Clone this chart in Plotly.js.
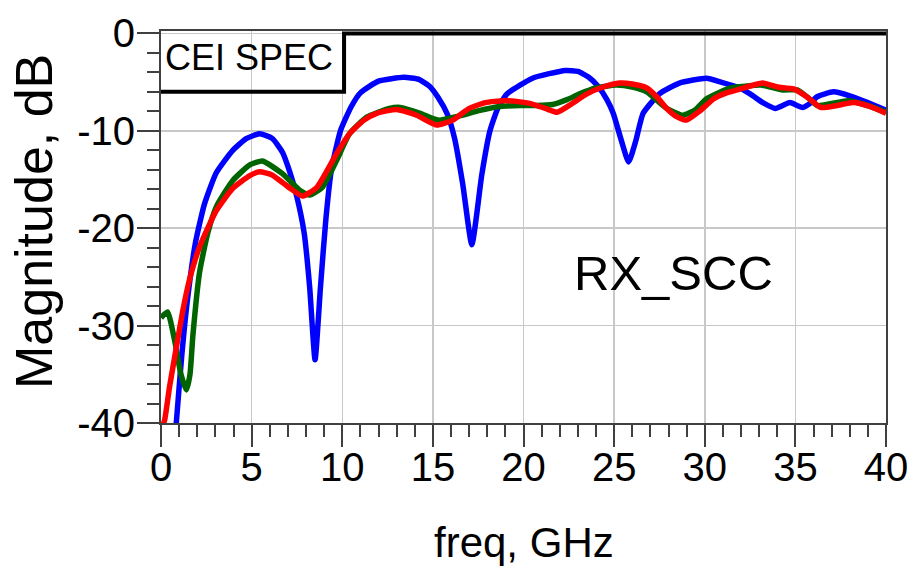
<!DOCTYPE html>
<html>
<head>
<meta charset="utf-8">
<script src="https://cdn.plot.ly/plotly-3.0.1.min.js"></script>
<style>html,body{margin:0;padding:0;background:#fff;}#chart{width:912px;height:566px;}</style>
</head>
<body>
<div id="chart"></div>
<script>
// Frequency (GHz) and magnitude (dB)
const blueFreq = [0.78, 0.95, 1.15, 1.45, 1.9, 2.4, 3.05, 3.96, 4.7, 5.45, 6.15, 6.7, 7.1, 7.5, 7.9, 8.2, 8.5, 8.8, 9.1, 9.4, 9.9, 10.5, 11.0, 12.0, 13.4, 14.2, 14.8, 15.3, 15.8, 16.2, 16.65, 17.15, 17.7, 18.15, 18.6, 19.1, 20.5, 22.3, 23.0, 23.6, 24.1, 24.6, 24.95, 25.4, 25.8, 26.2, 26.6, 27.5, 28.6, 30.1, 30.9, 31.8, 32.5, 33.2, 33.9, 34.3, 34.7, 35.1, 35.4, 35.8, 36.2, 37.1, 38.0, 39.0, 40];
const blueDb   = [-41.5, -37.5, -33, -27.5, -21.5, -17.5, -14.3, -12, -10.8, -10.3, -10.8, -12.2, -14.2, -16.8, -20.5, -26, -33.5, -26, -19, -14, -10, -7.5, -6.1, -4.9, -4.5, -4.7, -5.4, -6.6, -8.3, -10.8, -15.5, -21.7, -14.5, -10, -7.6, -6.2, -4.6, -3.8, -3.9, -4.5, -5.4, -6.8, -8.2, -11, -13.2, -11, -8.2, -6.2, -5.1, -4.6, -5.0, -5.5, -6.2, -7.1, -7.7, -7.4, -7.1, -7.4, -7.6, -7.2, -6.5, -6.0, -6.4, -7.1, -7.9];

const greenFreq = [0, 0.36, 0.75, 1.1, 1.4, 1.6, 1.76, 2.13, 2.58, 3.05, 3.96, 4.9, 5.6, 6.7, 7.65, 8.2, 8.9, 9.7, 10.4, 11.35, 12.6, 13.2, 14.3, 15.3, 16.4, 17.6, 18.7, 19.8, 20.7, 21.6, 22.4, 23.1, 24.0, 25.1, 26.0, 26.8, 27.9, 28.8, 29.5, 30.1, 31.4, 32.3, 33.1, 34.3, 35.1, 35.7, 36.2, 37.0, 37.9, 39.0, 40];
const greenDb   = [-29.2, -28.6, -31.5, -35, -36.6, -35, -31, -24.5, -20.5, -17.8, -15.1, -13.5, -13.1, -14.4, -16.1, -16.6, -15.8, -13.0, -10.3, -8.6, -7.7, -7.6, -8.2, -8.9, -8.5, -7.9, -7.5, -7.4, -7.4, -7.3, -6.8, -6.2, -5.6, -5.3, -5.5, -6.0, -7.7, -8.4, -7.8, -6.7, -5.6, -5.4, -5.3, -5.8, -5.8, -6.6, -7.4, -7.2, -6.9, -7.4, -8.1];

const redFreq = [0.05, 0.2, 0.47, 0.85, 1.2, 1.57, 2.13, 3.05, 3.96, 4.9, 5.44, 6.1, 6.7, 7.2, 7.8, 8.6, 9.7, 10.4, 11.2, 11.9, 13.0, 14.1, 15.2, 16.1, 17.0, 17.9, 18.9, 19.7, 20.4, 21.2, 21.85, 22.6, 23.5, 24.4, 25.3, 26.0, 26.8, 27.4, 27.9, 28.5, 29.0, 29.7, 30.5, 31.2, 31.8, 32.5, 33.2, 34.0, 34.9, 35.7, 36.4, 37.3, 38.2, 39.1, 40];
const redDb   = [-40.5, -39.7, -36.3, -32.2, -28.5, -25.3, -21.9, -18.2, -15.9, -14.6, -14.2, -14.5, -15.3, -16.0, -16.7, -15.8, -12.3, -10.3, -8.9, -8.2, -7.8, -8.4, -9.4, -8.9, -7.7, -7.1, -6.9, -7.0, -7.2, -7.7, -8.1, -7.3, -6.2, -5.5, -5.1, -5.2, -5.6, -6.6, -7.7, -8.6, -8.9, -8.0, -6.7, -6.1, -5.8, -5.4, -5.1, -5.5, -5.7, -6.6, -7.6, -7.4, -7.1, -7.5, -8.2];

// CEI spec mask
const specFreq = [0, 10.1, 10.1, 40];
const specDb   = [-6, -6, 0, 0];

// Axis ticks
const xTickVals = [0, 5, 10, 15, 20, 25, 30, 35, 40];
const xTickText = ['0', '5', '10', '15', '20', '25', '30', '35', '40'];
const yTickVals = [0, -10, -20, -30, -40];
const yTickText = ['0', '-10', '-20', '-30', '-40'];

const FONT = '"Liberation Sans", Arial, sans-serif';

const curve = (x, y, color) => ({
  x: x, y: y, type: 'scatter', mode: 'lines',
  line: {color: color, width: 5.5, shape: 'spline', smoothing: 0.5},
  hoverinfo: 'skip', showlegend: false
});

const traces = [
  {x: specFreq, y: specDb, type: 'scatter', mode: 'lines',
   line: {color: '#000000', width: 4}, showlegend: false, hoverinfo: 'skip'},
  curve(blueFreq, blueDb, '#0000ff'),
  curve(greenFreq, greenDb, '#006400'),
  curve(redFreq, redDb, '#ff0000')
];

const axisCommon = {
  showline: true, linecolor: '#404040', linewidth: 2, mirror: true,
  showgrid: true, gridcolor: '#c8c8c8', gridwidth: 1.5,
  zeroline: false,
  ticks: 'outside', ticklen: 22, tickwidth: 2, tickcolor: '#404040',
  tickmode: 'array',
  tickfont: {family: FONT, size: 40, color: '#000'}
};

const layout = {
  width: 912, height: 566,
  margin: {l: 161, r: 26, t: 31, b: 143},
  paper_bgcolor: '#ffffff', plot_bgcolor: '#ffffff',
  showlegend: false,
  xaxis: Object.assign({}, axisCommon, {
    range: [0, 40], tickvals: xTickVals, ticktext: xTickText,
    ticklabelstandoff: -14,
    minor: {dtick: 1, tick0: 0, ticks: 'outside', ticklen: 12, tickwidth: 2, tickcolor: '#404040', showgrid: false}
  }),
  yaxis: Object.assign({}, axisCommon, {
    range: [-40, 0.25], tickvals: yTickVals, ticktext: yTickText,
    ticklabelstandoff: -6,
    minor: {dtick: 2, tick0: 0, ticks: 'outside', ticklen: 12, tickwidth: 2, tickcolor: '#404040', showgrid: false}
  }),
  annotations: [
    {text: 'freq, GHz', xref: 'paper', yref: 'paper', x: 0.5, y: -0.305,
     xanchor: 'center', yanchor: 'middle', showarrow: false,
     font: {family: FONT, size: 42, color: '#000'}},
    {text: 'Magnitude, dB', xref: 'paper', yref: 'paper', x: -0.175, y: 0.513,
     xanchor: 'center', yanchor: 'middle', textangle: -90, showarrow: false,
     font: {family: FONT, size: 52, color: '#000'}},
    {text: 'RX_SCC', xref: 'x', yref: 'y', x: 28.3, y: -24.6,
     xanchor: 'center', yanchor: 'middle', showarrow: false,
     font: {family: FONT, size: 49, color: '#000'}},
    {text: 'CEI SPEC', xref: 'x', yref: 'y', x: 0.1, y: -2.5,
     xanchor: 'left', yanchor: 'middle', showarrow: false,
     font: {family: FONT, size: 36, color: '#000'}}
  ]
};

Plotly.newPlot('chart', traces, layout, {staticPlot: true, displayModeBar: false});
</script>
</body>
</html>
